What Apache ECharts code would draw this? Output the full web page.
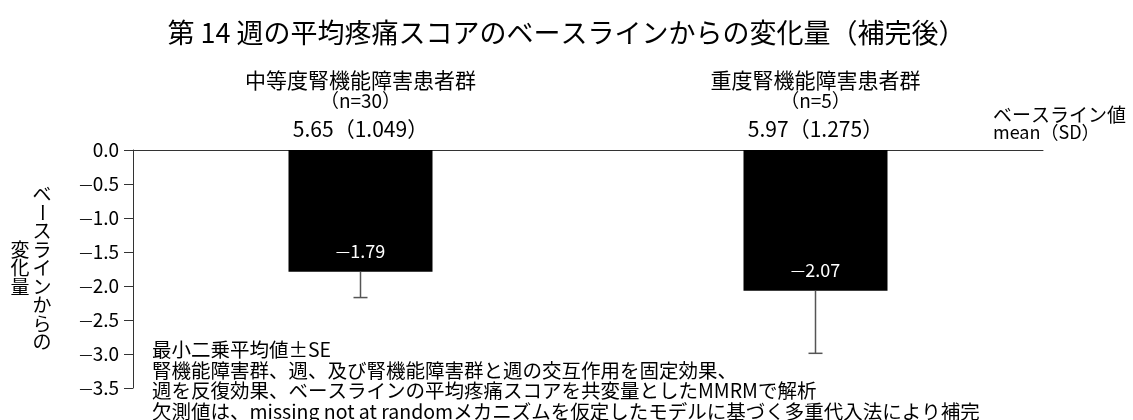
<!DOCTYPE html>
<html>
<head>
<meta charset="utf-8">
<script src="https://cdn.jsdelivr.net/npm/echarts@6/dist/echarts.min.js"></script>
<style>
  html, body { margin: 0; padding: 0; background: #fff; }
  #chart { width: 1133px; height: 420px; }
</style>
</head>
<body>
<div id="chart"></div>
<script>
// 群ごとのデータ
const categories = ['中等度腎機能障害患者群', '重度腎機能障害患者群'];
const groupSizes = ['（n=30）', '（n=5）'];
const baselineMean = ['5.65', '5.97'];
const baselineSD = ['1.049', '1.275'];
const lsMeanChange = [-1.79, -2.07];
const standardErrors = [0.38, 0.92];

const titleText = '第 14 週の平均疼痛スコアのベースラインからの変化量（補完後）';
const yNameColumns = ['ベースラインからの', '変化量'];
const footnotes = [
  '最小二乗平均値±SE',
  '腎機能障害群、週、及び腎機能障害群と週の交互作用を固定効果、',
  '週を反復効果、ベースラインの平均疼痛スコアを共変量としたMMRMで解析',
  '欠測値は、missing not at randomメカニズムを仮定したモデルに基づく多重代入法により補完'
];

const FONT = '"Noto Sans CJK JP", "Noto Sans", sans-serif';

// 縦書きの軸タイトル（右の列から読む）
function verticalName() {
  const children = [];
  const step = 18.5;
  const mid = 268;
  const colX = [42, 20];
  yNameColumns.forEach((col, c) => {
    const chars = Array.from(col);
    const start = mid - (chars.length - 1) * step / 2;
    chars.forEach((ch, k) => {
      children.push({
        type: 'text',
        x: colX[c],
        y: start + k * step,
        rotation: ch === 'ー' ? -Math.PI / 2 : 0,
        style: {
          text: ch, fill: '#000', font: '19px ' + FONT,
          textAlign: 'center', textVerticalAlign: 'middle'
        }
      });
    });
  });
  return { type: 'group', children };
}

// 脚注（1行ずつ配置）
function footnoteLines() {
  return footnotes.map((line, k) => ({
    type: 'text',
    x: 152,
    y: 350 + k * 20.5,
    style: {
      text: line, fill: '#000', font: '19.5px ' + FONT,
      textAlign: 'left', textVerticalAlign: 'middle'
    }
  }));
}

const chart = echarts.init(document.getElementById('chart'));
chart.setOption({
  backgroundColor: '#fff',
  textStyle: { fontFamily: FONT },
  animation: false,
  title: {
    text: titleText,
    left: 'center',
    top: 19,
    padding: 0,
    textStyle: { fontSize: 27, fontWeight: 'normal', color: '#000', fontFamily: FONT }
  },
  grid: { left: 133, right: 90, top: 150, bottom: 32, containLabel: false },
  xAxis: {
    type: 'category',
    data: categories,
    position: 'top',
    axisLine: { onZero: true, lineStyle: { color: '#333', width: 1 } },
    axisTick: { show: false },
    axisLabel: {
      interval: 0,
      margin: 3,
      color: '#000',
      formatter: (value, idx) =>
        `{grp|${value}}\n{cnt|${groupSizes[idx]}}\n{base|${baselineMean[idx]}（${baselineSD[idx]}）}`,
      rich: {
        grp: { fontSize: 21, lineHeight: 22, color: '#000', fontFamily: FONT },
        cnt: { fontSize: 19, lineHeight: 20, color: '#000', fontFamily: FONT },
        base: { fontSize: 21, lineHeight: 36, color: '#000', fontFamily: FONT }
      }
    },
    splitLine: { show: false }
  },
  yAxis: {
    type: 'value',
    min: -3.5,
    max: 0,
    interval: 0.5,
    axisLine: { show: true, lineStyle: { color: '#333', width: 1 } },
    axisTick: { show: true, length: 9, lineStyle: { color: '#333' } },
    axisLabel: {
      margin: 14,
      fontSize: 19,
      color: '#000',
      formatter: v => (v === 0 ? '0.0' : '{d|—}' + Math.abs(v).toFixed(1)),
      rich: { d: { fontSize: 15, color: '#000', fontFamily: FONT } }
    },
    splitLine: { show: false }
  },
  graphic: [
    verticalName(),
    {
      type: 'text', left: 993, top: 105,
      style: { text: 'ベースライン値', fill: '#000', font: '19px ' + FONT }
    },
    {
      type: 'text', left: 993, top: 123,
      style: { text: 'mean（SD）', fill: '#000', font: '18px ' + FONT }
    },
    ...footnoteLines()
  ],
  series: [
    {
      type: 'bar',
      data: lsMeanChange,
      barWidth: 144,
      itemStyle: { color: '#000' },
      label: {
        show: true,
        position: 'insideBottom',
        distance: 12,
        color: '#fff',
        fontSize: 18,
        formatter: p => '{d|—}' + Math.abs(p.value).toFixed(2),
        rich: { d: { fontSize: 16, color: '#fff', fontFamily: FONT } }
      },
      z: 2
    },
    {
      type: 'custom',
      data: lsMeanChange.map((m, i) => [i, m, standardErrors[i]]),
      encode: { x: 0, y: 1 },
      renderItem: (params, api) => {
        const i = api.value(0);
        const m = api.value(1);
        const s = api.value(2);
        const top = api.coord([i, m]);
        const bot = api.coord([i, m - s]);
        const style = { stroke: '#555', lineWidth: 1.5 };
        return {
          type: 'group',
          children: [
            { type: 'line', shape: { x1: top[0], y1: top[1], x2: bot[0], y2: bot[1] }, style },
            { type: 'line', shape: { x1: bot[0] - 7, y1: bot[1], x2: bot[0] + 7, y2: bot[1] }, style }
          ]
        };
      },
      z: 3
    }
  ]
});
</script>
</body>
</html>
